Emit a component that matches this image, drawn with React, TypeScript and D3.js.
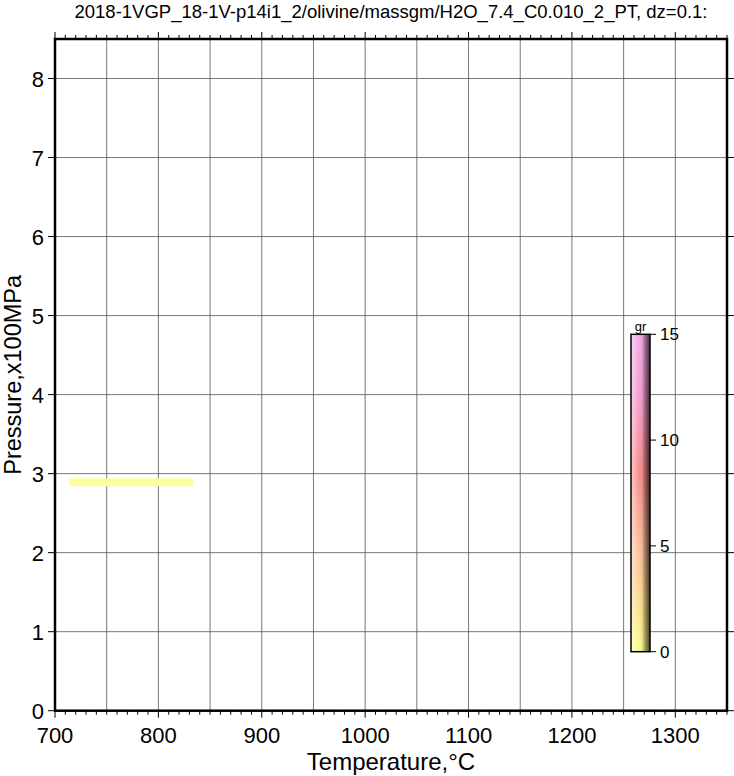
import React from "react";
import * as d3 from "d3";

const TITLE = "2018-1VGP_18-1V-p14i1_2/olivine/massgm/H2O_7.4_C0.010_2_PT, dz=0.1:";
const X_LABEL = "Temperature,°C";
const Y_LABEL = "Pressure,x100MPa";
const X_DOMAIN = [700, 1350];
const Y_DOMAIN = [0, 8.5];
const X_TICKS = [700, 800, 900, 1000, 1100, 1200, 1300];
const Y_TICKS = [0, 1, 2, 3, 4, 5, 6, 7, 8];
// observed data segment (T start, T end, P)
const SEG_T = [714, 834];
const SEG_P = [2.89, 2.89];
const SEG_VALUE = [0];
// colorbar
const CB_TICKS = [0, 5, 10, 15];
const CB_STOPS = [0, 5, 8.5, 12, 15];
const CB_COLORS = ["#fbfb88", "#fcbc98", "#f88a8a", "#f49ccf", "#f2a8e6"];
const CB_LABEL = "gr";

const W = 734, H = 776;
const L = 55, R = 727, T = 39, B = 710.7;
const FONT = "'Liberation Sans', Arial, Helvetica, sans-serif";

export default function App() {
  const x = d3.scaleLinear().domain(X_DOMAIN).range([L, R]);
  const y = d3.scaleLinear().domain(Y_DOMAIN).range([B, T]);
  const cb = d3.scaleLinear().domain([0, 15]).range([651.7, 334.3]);
  const cbColor = d3.scaleLinear<string>().domain(CB_STOPS).range(CB_COLORS);
  const cbX0 = 631, cbX1 = 650;

  const gridX = d3.range(750, 1350, 50);
  const gridY = Y_TICKS.filter((v) => v > 0);
  const minorX = d3.range(700, 1351, 10);

  return (
    <svg width={W} height={H} style={{ position: "absolute", left: 0, top: 0, background: "#fff" }} fontFamily={FONT}>
      <defs>
        <linearGradient id="cbv" x1="0" y1="1" x2="0" y2="0">
          {CB_STOPS.map((s, i) => (
            <stop key={i} offset={s / 15} stopColor={cbColor(s)} />
          ))}
        </linearGradient>
        <linearGradient id="cbh" x1="0" y1="0" x2="1" y2="0">
          <stop offset="0" stopColor="#fff" stopOpacity={0.5} />
          <stop offset="0.25" stopColor="#fff" stopOpacity={0.25} />
          <stop offset="0.45" stopColor="#fff" stopOpacity={0} />
          <stop offset="0.7" stopColor="#000" stopOpacity={0.3} />
          <stop offset="1" stopColor="#000" stopOpacity={0.72} />
        </linearGradient>
      </defs>
      <rect x={0} y={0} width={W} height={H} fill="#fff" />
      {/* grid */}
      {gridX.map((v) => (
        <line key={"gx" + v} x1={x(v)} x2={x(v)} y1={T} y2={B} stroke="#555" strokeWidth={0.8} />
      ))}
      {gridY.map((v) => (
        <line key={"gy" + v} x1={L} x2={R} y1={y(v)} y2={y(v)} stroke="#555" strokeWidth={0.8} />
      ))}
      {/* data segment */}
      <line x1={x(SEG_T[0])} x2={x(SEG_T[1])} y1={y(SEG_P[0])} y2={y(SEG_P[1])} stroke="#fefea0" strokeWidth={8} data-value={SEG_VALUE[0]} />
      {/* ticks */}
      {minorX.map((v) => {
        const major = v % 100 === 0;
        const len = major ? 7 : 4;
        return (
          <g key={"tx" + v}>
            <line x1={x(v)} x2={x(v)} y1={B} y2={B + len} stroke="#000" strokeWidth={1} />
            <line x1={x(v)} x2={x(v)} y1={T} y2={T - len} stroke="#000" strokeWidth={1} />
          </g>
        );
      })}
      {Y_TICKS.map((v) => (
        <g key={"ty" + v}>
          <line x1={L - 7} x2={L} y1={y(v)} y2={y(v)} stroke="#000" strokeWidth={1} />
          <line x1={R} x2={R + 7} y1={y(v)} y2={y(v)} stroke="#000" strokeWidth={1} />
        </g>
      ))}
      {/* frame */}
      <rect x={L} y={T} width={R - L} height={B - T} fill="none" stroke="#000" strokeWidth={2.5} />
      {/* tick labels */}
      {X_TICKS.map((v) => (
        <text key={"lx" + v} x={x(v)} y={743} fontSize={22} textAnchor="middle" fill="#000">{v}</text>
      ))}
      {Y_TICKS.map((v) => (
        <text key={"ly" + v} x={44} y={y(v) + 8} fontSize={22} textAnchor="end" fill="#000">{v}</text>
      ))}
      {/* axis titles */}
      <text x={(L + R) / 2} y={770} fontSize={24} textAnchor="middle" fill="#000">{X_LABEL}</text>
      <text transform={`translate(21,${(T + B) / 2}) rotate(-90)`} fontSize={23.5} textAnchor="middle" fill="#000">{Y_LABEL}</text>
      {/* title */}
      <text x={(L + R) / 2} y={18} fontSize={18.5} textAnchor="middle" fill="#000">{TITLE}</text>
      {/* colorbar */}
      <rect x={cbX0} y={cb(15)} width={cbX1 - cbX0} height={cb(0) - cb(15)} fill="url(#cbv)" />
      <rect x={cbX0} y={cb(15)} width={cbX1 - cbX0} height={cb(0) - cb(15)} fill="url(#cbh)" />
      <rect x={cbX0} y={cb(15)} width={cbX1 - cbX0} height={cb(0) - cb(15)} fill="none" stroke="#000" strokeWidth={1.5} />
      {CB_TICKS.map((v) => (
        <g key={"cb" + v}>
          <line x1={cbX1} x2={cbX1 + 6} y1={cb(v)} y2={cb(v)} stroke="#000" strokeWidth={1} />
          <text x={cbX1 + 10} y={cb(v) + 6} fontSize={17} fill="#000">{v}</text>
        </g>
      ))}
      <text x={(cbX0 + cbX1) / 2} y={cb(15) - 3} fontSize={13} textAnchor="middle" fill="#000">{CB_LABEL}</text>
    </svg>
  );
}
